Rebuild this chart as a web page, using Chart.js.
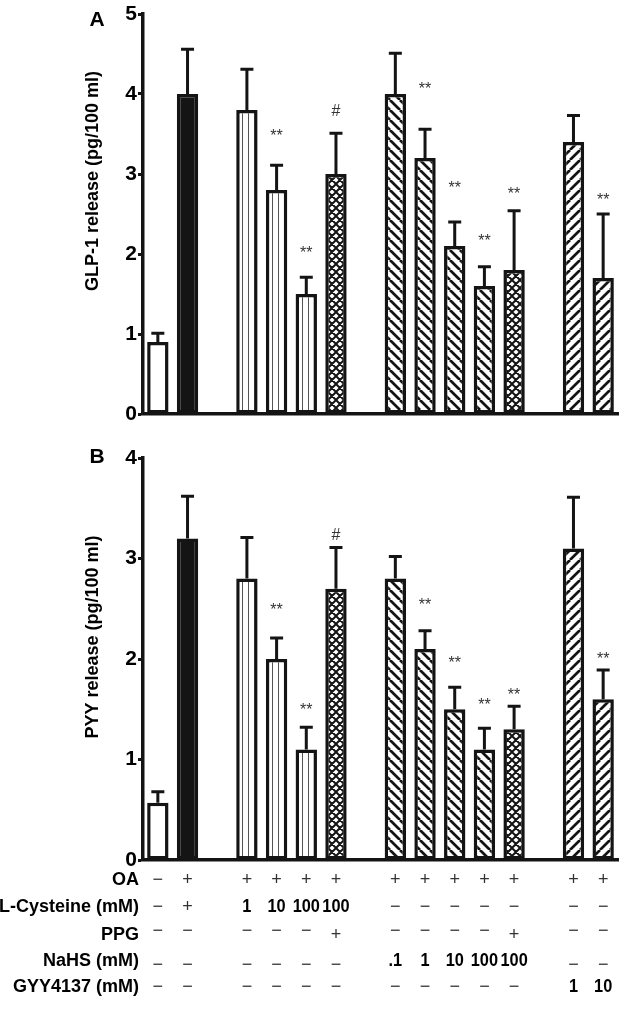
<!DOCTYPE html>
<html>
<head>
<meta charset="utf-8">
<script src="https://cdn.jsdelivr.net/npm/chart.js@4.4.1/dist/chart.umd.min.js"></script>
<style>
    body { margin: 0; background: #fff; }
    #wrap { position: relative; width: 630px; height: 1019px; }
    canvas { position: absolute; left: 0; }
</style>
</head>
<body>
<div id="wrap">
    <canvas id="glp" width="630" height="440" style="top:0"></canvas>
    <canvas id="pyy" width="630" height="579" style="top:440px"></canvas>
</div>
<script>
// one slot per bar, empty slots keep the gaps between groups
const categories = ['Ctrl', 'OA', '', 'Cys 1', 'Cys 10', 'Cys 100', 'Cys 100 + PPG', '',
    'NaHS .1', 'NaHS 1', 'NaHS 10', 'NaHS 100', 'NaHS 100 + PPG', '', 'GYY 1', 'GYY 10'];

// hatch style of each bar
const fills = ['white', 'black', null, 'vertical', 'vertical', 'vertical', 'cross', null,
    'back', 'back', 'back', 'back', 'cross', null, 'forward', 'forward'];

const glpMean = [0.9, 4.0, null, 3.8, 2.8, 1.5, 3.0, null, 4.0, 3.2, 2.1, 1.6, 1.8, null, 3.4, 1.7];
const glpSem = [0.11, 0.56, null, 0.51, 0.31, 0.21, 0.51, null, 0.51, 0.36, 0.3, 0.24, 0.74, null, 0.33, 0.8];
const glpMarks = [null, null, null, null, '**', '**', '#', null, null, '**', '**', '**', '**', null, null, '**'];
const glpMarkAt = [null, null, null, null, 3.51, 2.04, 3.78, null, null, 4.09, 2.86, 2.19, 2.78, null, null, 2.7];

const pyyMean = [0.57, 3.2, null, 2.8, 2.0, 1.1, 2.7, null, 2.8, 2.1, 1.5, 1.1, 1.3, null, 3.1, 1.6];
const pyySem = [0.11, 0.42, null, 0.41, 0.21, 0.22, 0.41, null, 0.22, 0.18, 0.22, 0.21, 0.23, null, 0.51, 0.29];
const pyyMarks = [null, null, null, null, '**', '**', '#', null, null, '**', '**', '**', '**', null, null, '**'];
const pyyMarkAt = [null, null, null, null, 2.51, 1.52, 3.23, null, null, 2.56, 1.98, 1.57, 1.67, null, null, 2.02];

// treatment table under panel B
const rowLabels = ['OA', 'L-Cysteine (mM)', 'PPG', 'NaHS (mM)', 'GYY4137 (mM)'];
const oaRow = ['−', '+', null, '+', '+', '+', '+', null, '+', '+', '+', '+', '+', null, '+', '+'];
const cysRow = ['−', '+', null, '1', '10', '100', '100', null, '−', '−', '−', '−', '−', null, '−', '−'];
const ppgRow = ['−', '−', null, '−', '−', '−', '+', null, '−', '−', '−', '−', '+', null, '−', '−'];
const nahsRow = ['−', '−', null, '−', '−', '−', '−', null, '.1', '1', '10', '100', '100', null, '−', '−'];
const gyyRow = ['−', '−', null, '−', '−', '−', '−', null, '−', '−', '−', '−', '−', null, '1', '10'];
const tableRows = [oaRow, cysRow, ppgRow, nahsRow, gyyRow];

const INK = '#141414';
const FONT = "'Liberation Sans', Arial, Helvetica, sans-serif";

function makePattern(kind) {
    if (kind === 'white') return '#fff';
    if (kind === 'black') return INK;
    const c = document.createElement('canvas');
    const s = kind === 'vertical' ? 6 : (kind === 'cross' ? 8 : 10);
    c.width = s;
    c.height = s;
    const g = c.getContext('2d');
    g.fillStyle = '#fff';
    g.fillRect(0, 0, s, s);
    g.strokeStyle = INK;
    if (kind === 'vertical') {
        g.strokeStyle = '#555';
        g.lineWidth = 1;
        g.beginPath();
        g.moveTo(2.5, 0);
        g.lineTo(2.5, s);
        g.stroke();
        return g.createPattern(c, 'repeat');
    }
    g.lineWidth = kind === 'cross' ? 2 : 2.7;
    const back = (k) => { g.moveTo(k * s, 0); g.lineTo(k * s + s, s); };
    const fwd = (k) => { g.moveTo(k * s, s); g.lineTo(k * s + s, 0); };
    g.beginPath();
    for (let k = -1; k <= 1; k++) {
        if (kind === 'back' || kind === 'cross') back(k);
        if (kind === 'forward' || kind === 'cross') fwd(k);
    }
    g.stroke();
    return g.createPattern(c, 'repeat');
}

const panelPlugin = {
    id: 'panelExtras',
    afterDatasetsDraw(chart, args, opts) {
        const ctx = chart.ctx;
        const y = chart.scales.y;
        const meta = chart.getDatasetMeta(0);
        ctx.save();
        // error bars (upper only)
        ctx.strokeStyle = INK;
        ctx.lineWidth = 3;
        opts.mean.forEach((m, i) => {
            if (m == null) return;
            const bar = meta.data[i];
            const top = y.getPixelForValue(m + opts.sem[i]);
            ctx.beginPath();
            ctx.moveTo(bar.x, bar.y);
            ctx.lineTo(bar.x, top);
            ctx.moveTo(bar.x - 6.5, top);
            ctx.lineTo(bar.x + 6.5, top);
            ctx.stroke();
        });
        // significance marks
        ctx.fillStyle = '#333';
        ctx.textAlign = 'center';
        ctx.textBaseline = 'middle';
        ctx.font = '16px ' + FONT;
        opts.marks.forEach((txt, i) => {
            if (!txt) return;
            ctx.fillText(txt, meta.data[i].x, y.getPixelForValue(opts.markAt[i]) + (txt === '#' ? 0 : 3));
        });
        ctx.restore();
    },
    afterDraw(chart, args, opts) {
        const ctx = chart.ctx;
        const area = chart.chartArea;
        ctx.save();
        ctx.fillStyle = '#000';
        ctx.textAlign = 'center';
        ctx.textBaseline = 'middle';
        ctx.font = 'bold 21px ' + FONT;
        ctx.fillText(opts.letter, 97, area.top + opts.letterDy);
        // axis title sits a bit above the middle of the axis
        ctx.translate(93, (area.top + area.bottom) / 2 + opts.titleShift);
        ctx.rotate(-Math.PI / 2);
        ctx.font = 'bold 18px ' + FONT;
        ctx.fillText(opts.title, 0, 0);
        ctx.restore();
    }
};

const tablePlugin = {
    id: 'treatments',
    afterDraw(chart, args, opts) {
        if (!opts.show) return;
        const ctx = chart.ctx;
        const x = chart.scales.x;
        const base = chart.chartArea.bottom;
        const rowDy = [20, 47, 75, 101, 127];
        const dashDy = [0, 0, -4, 4, 0];
        ctx.save();
        ctx.textBaseline = 'middle';
        rowLabels.forEach((label, r) => {
            const yy = base + rowDy[r];
            ctx.fillStyle = '#000';
            ctx.textAlign = 'right';
            ctx.font = 'bold 18px ' + FONT;
            ctx.fillText(label, 139, yy);
            ctx.textAlign = 'center';
            tableRows[r].forEach((cell, i) => {
                if (cell == null) return;
                const cx = x.getPixelForValue(i);
                if (cell === '+' || cell === '−') {
                    ctx.font = '18px ' + FONT;
                    ctx.fillStyle = '#333';
                    ctx.fillText(cell, cx, yy + (cell === '−' ? dashDy[r] : 0));
                } else {
                    // numbers are set a little condensed, as in the figure
                    ctx.save();
                    ctx.translate(cx, yy);
                    ctx.scale(0.86, 1);
                    ctx.font = 'bold 19px ' + FONT;
                    ctx.fillStyle = '#000';
                    ctx.fillText(cell, 0, 0);
                    ctx.restore();
                }
            });
        });
        ctx.restore();
    }
};

function buildChart(id, cfg) {
    const patterns = fills.map(f => (f ? makePattern(f) : '#fff'));
    return new Chart(document.getElementById(id), {
        type: 'bar',
        data: {
            labels: categories,
            datasets: [{
                data: cfg.mean,
                backgroundColor: patterns,
                borderColor: INK,
                borderWidth: 3.5,
                borderSkipped: false,
                barPercentage: 0.72,
                categoryPercentage: 1
            }]
        },
        options: {
            responsive: false,
            animation: false,
            layout: { padding: { top: cfg.padTop, right: 12, left: 0, bottom: 0 } },
            plugins: {
                legend: { display: false },
                tooltip: { enabled: false },
                panelExtras: {
                    mean: cfg.mean, sem: cfg.sem, marks: cfg.marks, markAt: cfg.markAt,
                    letter: cfg.letter, letterDy: cfg.letterDy, title: cfg.title, titleShift: cfg.titleShift
                },
                treatments: { show: cfg.table }
            },
            scales: {
                x: {
                    grid: { display: false },
                    ticks: { display: false },
                    border: { display: true, width: 3.5, color: INK },
                    afterFit: scale => { scale.height = cfg.bottomSpace; }
                },
                y: {
                    min: 0,
                    max: cfg.max,
                    ticks: {
                        stepSize: 1,
                        padding: 1,
                        color: '#000',
                        font: { family: FONT, size: 21, weight: 'bold' }
                    },
                    grid: {
                        display: true,
                        drawOnChartArea: false,
                        drawTicks: true,
                        tickLength: 5,
                        tickWidth: 3,
                        tickColor: INK
                    },
                    border: { display: true, width: 3.5, color: INK },
                    afterFit: scale => { scale.width = 143; }
                }
            }
        },
        plugins: [panelPlugin, tablePlugin]
    });
}

buildChart('glp', {
    mean: glpMean, sem: glpSem, marks: glpMarks, markAt: glpMarkAt, max: 5,
    letter: 'A', letterDy: 6, title: 'GLP-1 release (pg/100 ml)', titleShift: -33,
    padTop: 14, bottomSpace: 26, table: false
});

buildChart('pyy', {
    mean: pyyMean, sem: pyySem, marks: pyyMarks, markAt: pyyMarkAt, max: 4,
    letter: 'B', letterDy: -1, title: 'PYY release (pg/100 ml)', titleShift: -22,
    padTop: 18, bottomSpace: 159, table: true
});
</script>
</body>
</html>
